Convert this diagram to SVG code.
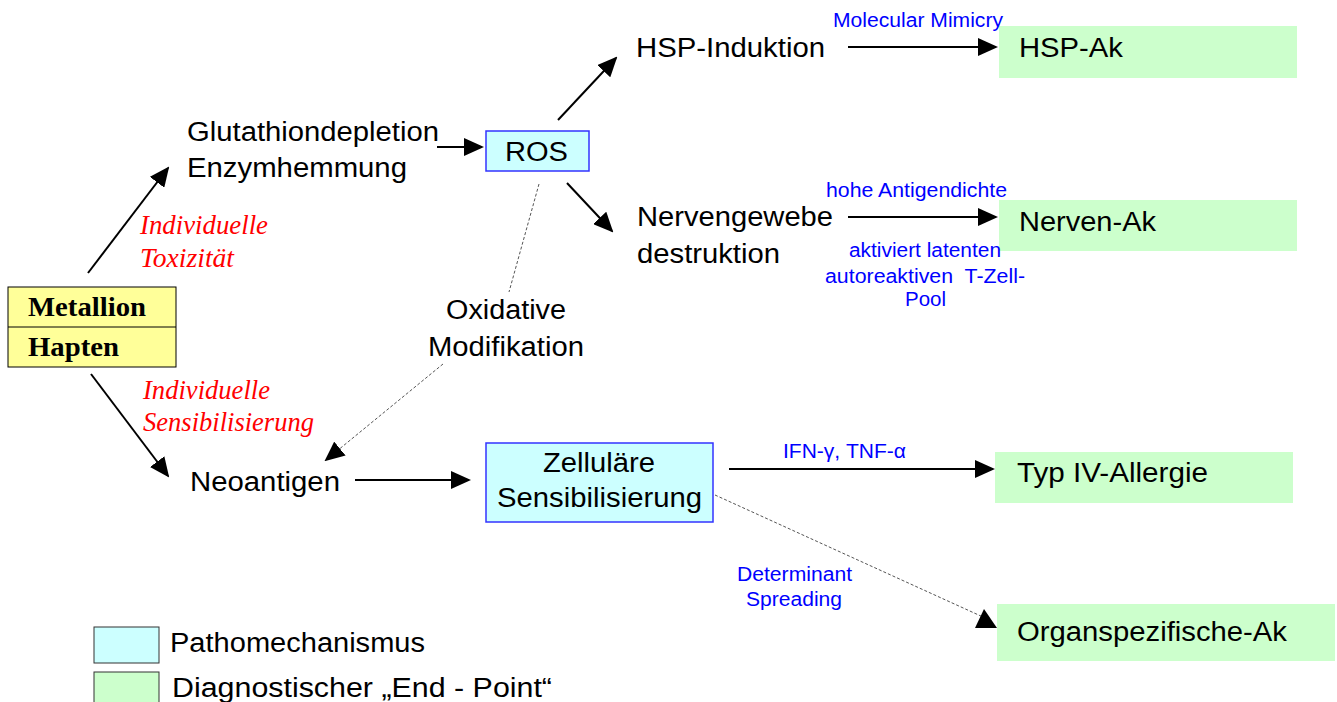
<svg xmlns="http://www.w3.org/2000/svg" width="1337" height="702" viewBox="0 0 1337 702">
<defs>
<marker id="ah" viewBox="0 0 20 18" refX="18" refY="9" markerWidth="20" markerHeight="18" markerUnits="userSpaceOnUse" orient="auto">
<path d="M0,0 L20,9 L0,18 z" fill="#000"/>
</marker>
<style>
.t{font-family:"Liberation Sans",Arial,sans-serif;font-size:27px;fill:#000}
.b{font-family:"Liberation Sans",Arial,sans-serif;font-size:20px;fill:#0000ff}
.r{font-family:"Liberation Serif","Times New Roman",serif;font-size:27px;font-style:italic;fill:#ff0000}
.h{font-family:"Liberation Serif","Times New Roman",serif;font-size:28px;font-weight:bold;fill:#000}
.pm{fill:#ccffff;stroke:#3333ff;stroke-width:1.5}
.ep{fill:#ccffcc;stroke:none}
.ar{stroke:#000;stroke-width:2;fill:none;marker-end:url(#ah)}
.ds{stroke:#555;stroke-width:1;stroke-dasharray:3,2;fill:none}
.dsa{stroke:#555;stroke-width:1;stroke-dasharray:3,2;fill:none;marker-end:url(#ah)}
</style>
</defs>
<rect width="1337" height="702" fill="#fff"/>
<g id="connectors">
<line class="ar" x1="88" y1="273" x2="168" y2="168"/>
<line class="ar" x1="91" y1="374" x2="168" y2="476"/>
<line class="ar" x1="437" y1="147" x2="482" y2="147"/>
<line class="ar" x1="558" y1="120" x2="616" y2="58"/>
<line class="ar" x1="567" y1="183" x2="612" y2="231"/>
<line class="ar" x1="848" y1="47" x2="996" y2="47"/>
<line class="ar" x1="848" y1="217" x2="996" y2="217"/>
<line class="ar" x1="355" y1="480" x2="469" y2="480"/>
<line class="ar" x1="729" y1="469" x2="993" y2="469"/>
<line class="ds" x1="539" y1="184" x2="509" y2="292"/>
<line class="dsa" x1="443" y1="364" x2="326" y2="460"/>
<line class="ds" x1="715" y1="495" x2="983" y2="617"/>
<polygon points="984,609 975,628 997,628"/>
</g>
<g id="metallion">
<rect x="8" y="287" width="168" height="80" fill="#ffff99" stroke="#000" stroke-width="1"/>
<line x1="8" y1="327" x2="176" y2="327" stroke="#000" stroke-width="1"/>
<text class="h" x="28" y="316" textLength="118" lengthAdjust="spacingAndGlyphs">Metallion</text>
<text class="h" x="28" y="356" textLength="91" lengthAdjust="spacingAndGlyphs">Hapten</text>
</g>
<g id="tox-label">
<text class="r" x="140" y="234" textLength="128" lengthAdjust="spacingAndGlyphs">Individuelle</text>
<text class="r" x="140" y="267" textLength="94" lengthAdjust="spacingAndGlyphs">Toxizität</text>
</g>
<g id="sens-label">
<text class="r" x="143" y="399" textLength="127" lengthAdjust="spacingAndGlyphs">Individuelle</text>
<text class="r" x="143" y="431" textLength="171" lengthAdjust="spacingAndGlyphs">Sensibilisierung</text>
</g>
<g id="glutathion">
<text class="t" x="187" y="141" textLength="252" lengthAdjust="spacingAndGlyphs">Glutathiondepletion</text>
<text class="t" x="187" y="177" textLength="220" lengthAdjust="spacingAndGlyphs">Enzymhemmung</text>
</g>
<g id="ros">
<rect class="pm" x="486" y="131" width="103" height="40"/>
<text class="t" x="505" y="161" textLength="63" lengthAdjust="spacingAndGlyphs">ROS</text>
</g>
<g id="hsp-induktion">
<text class="t" x="636" y="57" textLength="189" lengthAdjust="spacingAndGlyphs">HSP-Induktion</text>
</g>
<g id="nervengewebe">
<text class="t" x="637" y="226" textLength="196" lengthAdjust="spacingAndGlyphs">Nervengewebe</text>
<text class="t" x="637" y="263" textLength="143" lengthAdjust="spacingAndGlyphs">destruktion</text>
</g>
<g id="hsp-ak">
<rect class="ep" x="999" y="26" width="298" height="52"/>
<text class="t" x="1019" y="57" textLength="104" lengthAdjust="spacingAndGlyphs">HSP-Ak</text>
<text class="b" x="833" y="27" textLength="170" lengthAdjust="spacingAndGlyphs">Molecular Mimicry</text>
</g>
<g id="nerven-ak">
<rect class="ep" x="999" y="200" width="298" height="51"/>
<text class="t" x="1019" y="231" textLength="137" lengthAdjust="spacingAndGlyphs">Nerven-Ak</text>
<text class="b" x="826" y="197" textLength="181" lengthAdjust="spacingAndGlyphs">hohe Antigendichte</text>
<text class="b" x="849" y="257" textLength="152" lengthAdjust="spacingAndGlyphs">aktiviert latenten</text>
<text class="b" x="825" y="283" textLength="200" lengthAdjust="spacingAndGlyphs" xml:space="preserve">autoreaktiven  T-Zell-</text>
<text class="b" x="905" y="306" textLength="41" lengthAdjust="spacingAndGlyphs">Pool</text>
</g>
<g id="oxidative">
<text class="t" x="446" y="319" textLength="120" lengthAdjust="spacingAndGlyphs">Oxidative</text>
<text class="t" x="428" y="356" textLength="156" lengthAdjust="spacingAndGlyphs">Modifikation</text>
</g>
<g id="neoantigen">
<text class="t" x="190" y="491" textLength="150" lengthAdjust="spacingAndGlyphs">Neoantigen</text>
</g>
<g id="zellulaere">
<rect class="pm" x="486" y="443" width="227" height="79"/>
<text class="t" x="543" y="472" textLength="112" lengthAdjust="spacingAndGlyphs">Zelluläre</text>
<text class="t" x="497" y="507" textLength="205" lengthAdjust="spacingAndGlyphs">Sensibilisierung</text>
</g>
<g id="typ4">
<rect class="ep" x="995" y="452" width="298" height="51"/>
<text class="t" x="1017" y="482" textLength="191" lengthAdjust="spacingAndGlyphs">Typ IV-Allergie</text>
<text class="b" x="783" y="458" textLength="123" lengthAdjust="spacingAndGlyphs">IFN-γ, TNF-α</text>
</g>
<g id="organ">
<rect class="ep" x="997" y="604" width="338" height="57"/>
<text class="t" x="1017" y="641" textLength="270" lengthAdjust="spacingAndGlyphs">Organspezifische-Ak</text>
<text class="b" x="737" y="581" textLength="115" lengthAdjust="spacingAndGlyphs">Determinant</text>
<text class="b" x="746" y="606" textLength="96" lengthAdjust="spacingAndGlyphs">Spreading</text>
</g>
<g id="legend">
<rect x="94" y="627" width="65" height="36" fill="#ccffff" stroke="#333" stroke-width="1"/>
<text class="t" x="170" y="652" textLength="255" lengthAdjust="spacingAndGlyphs">Pathomechanismus</text>
<rect x="94" y="672" width="65" height="36" fill="#ccffcc" stroke="#333" stroke-width="1"/>
<text class="t" x="172" y="697" textLength="380" lengthAdjust="spacingAndGlyphs">Diagnostischer „End - Point“</text>
</g>
</svg>
